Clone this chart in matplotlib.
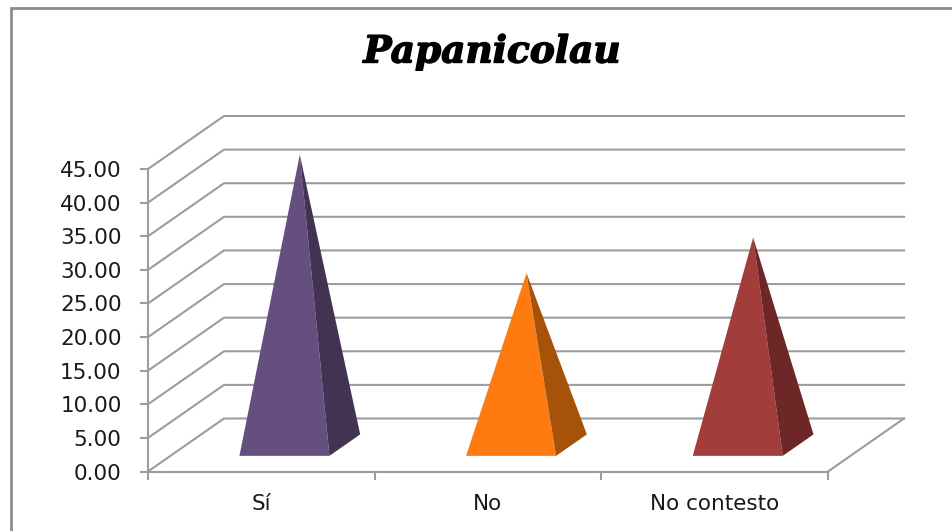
import numpy as np
from matplotlib import pyplot as plt
from matplotlib.lines import Line2D
from matplotlib.patches import Polygon
import matplotlib.patheffects as pe

categories = ["Sí", "No", "No contesto"]
values = [43.2, 25.6, 30.9]
front_colors = ["#674E81", "#FD7B10", "#A23D3C"]
side_colors = ["#433353", "#A65209", "#6C2726"]
y_ticks = [0, 5, 10, 15, 20, 25, 30, 35, 40, 45]

W, H = 953, 531
GRID = "#9c9c9c"

fig = plt.figure(figsize=(W/100, H/100), dpi=100)

# front plane of the 3d box, in pixels
left, right, bottom, top = 148, 828, 471.5, 169
ax = fig.add_axes([left/W, 1-bottom/H, (right-left)/W, (bottom-top)/H])
ax.set_xlim(0, 3)
ax.set_ylim(0, 45)
ax.patch.set_visible(False)

# depth of the box in data units
dx = 76/((right-left)/3)
dy = 53/((bottom-top)/45)

def proj(x, v, d):
    return (x + d*dx, v + d*dy)

for t in y_ticks:
    a = proj(0, t, 0)
    b = proj(0, t, 1)
    c = proj(3, t, 1)
    ax.plot([a[0], b[0], c[0]], [a[1], b[1], c[1]], color=GRID, lw=1.5,
            clip_on=False, zorder=1, solid_joinstyle="miter")
a = proj(3, 0, 0)
b = proj(3, 0, 1)
ax.plot([a[0], b[0]], [a[1], b[1]], color=GRID, lw=1.5, clip_on=False, zorder=1)

# pyramids
for i, v in enumerate(values):
    x0 = i + 69/((right-left)/3)
    x1 = i + 159/((right-left)/3)
    d0, d1 = 0.295, 0.70
    xc = (x0 + x1)/2
    apex = proj(xc, v, (d0 + d1)/2)
    ax.add_patch(Polygon([proj(x0, 0, d0), proj(x1, 0, d0), apex],
                         closed=True, fc=front_colors[i], ec="none", clip_on=False, zorder=3))
    ax.add_patch(Polygon([proj(x1, 0, d0), proj(x1, 0, d1), apex],
                         closed=True, fc=side_colors[i], ec="none", clip_on=False, zorder=3))

for s in ["top", "right"]:
    ax.spines[s].set_visible(False)
for s in ["left", "bottom"]:
    ax.spines[s].set_color(GRID)
    ax.spines[s].set_linewidth(1.5)

ax.set_yticks(y_ticks)
ax.set_yticklabels(["%.2f" % t for t in y_ticks], fontsize=15.5, color="#1a1a1a")
ax.tick_params(axis="y", length=6, width=1.5, color=GRID, pad=13)
ax.set_xticks([0, 1, 2, 3])
ax.set_xticklabels([])
ax.tick_params(axis="x", length=5.5, width=1.5, color=GRID)
ax.set_xticks([0.5, 1.5, 2.5], minor=True)
ax.set_xticklabels(categories, minor=True, fontsize=15.5, color="#1a1a1a")
ax.tick_params(axis="x", which="minor", length=0, pad=16)

# title
fig.text(492/W, 1-52/H, "Papanicolau", ha="center", va="center", fontsize=27,
         family="DejaVu Serif", style="italic", weight="bold", color="black",
         path_effects=[pe.withStroke(linewidth=1, foreground="black")])

# chart frame, open on the right and at the bottom
fig.add_artist(Line2D([11.5/W, 11.5/W, 1], [0, 1-8/H, 1-8/H],
                      color="#8c8c8c", lw=2, solid_joinstyle="miter"))

plt.savefig("out.png", dpi=100)
